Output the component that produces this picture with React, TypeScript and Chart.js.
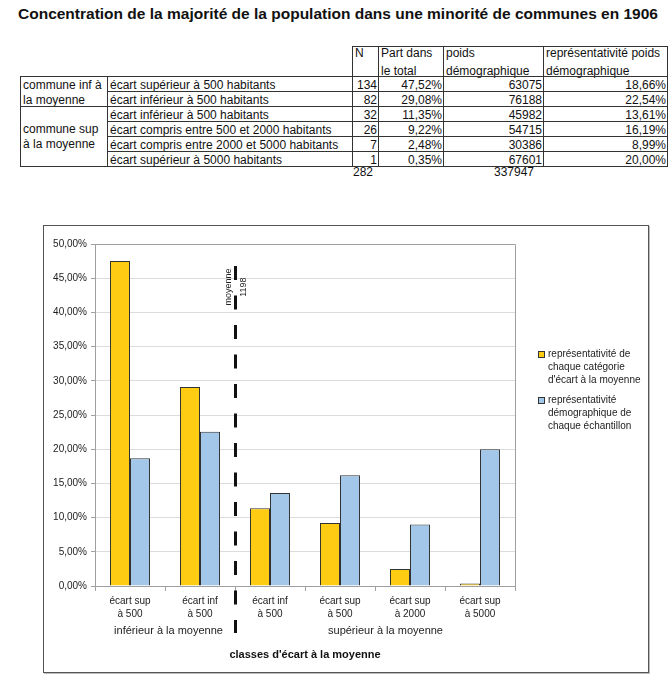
import React, { useEffect, useRef } from "react";
import { Chart, registerables } from "chart.js";

Chart.register(...registerables);

const FONT = '"Liberation Sans", Arial, sans-serif';

// ---------- data ----------
const categories: string[][] = [
  ["écart sup", "à 500"],
  ["écart inf", "à 500"],
  ["écart inf", "à 500"],
  ["écart sup", "à 500"],
  ["écart sup", "à 2000"],
  ["écart sup", "à 5000"],
];
const partTotal = [47.52, 29.08, 11.35, 9.22, 2.48, 0.35];
const reprDemo = [18.66, 22.54, 13.61, 16.19, 8.99, 20.0];
const seriesNames: string[][] = [
  ["représentativité de", "chaque catégorie", "d'écart à la moyenne"],
  ["représentativité", "démographique de", "chaque échantillon"],
];
const yTicks = { min: 0, max: 50, step: 5 };
const groupLabels = ["inférieur à la moyenne", "supérieur à la moyenne"];
const axisTitle = "classes d'écart à la moyenne";
const meanLabel = ["moyenne", "1198"];

// table
const title = "Concentration de la majorité de la population dans une minorité de communes en 1906";
const groupNames: string[][] = [
  ["commune inf à", "la moyenne"],
  ["commune sup", "à la moyenne"],
];
const rowLabels = [
  "écart supérieur à 500 habitants",
  "écart inférieur à 500 habitants",
  "écart inférieur à 500 habitants",
  "écart compris entre 500 et 2000 habitants",
  "écart compris entre 2000 et 5000 habitants",
  "écart supérieur à 5000 habitants",
];
const nValues = [134, 82, 32, 26, 7, 1];
const poidsValues = [63075, 76188, 45982, 54715, 30386, 67601];
const totalN = 282;
const totalPoids = 337947;
const headers: string[][] = [
  ["N"],
  ["Part dans", "le total"],
  ["poids", "démographique"],
  ["représentativité poids", "démographique"],
];

const pct = (v: number) => v.toFixed(2).replace(".", ",") + "%";

const COLORS = ["#FFCC14", "#A2C7E8"];

// ---------- table ----------
const colX = [20, 107, 352, 378, 443, 543, 667];
const rowTop = 76;
const rowH = 15;
const TFONT = 12;

function Cell(props: {
  x1: number; x2: number; y1: number; y2: number;
  align?: "left" | "right"; lines: string[]; vcenter?: boolean; lh?: number; off?: number;
}) {
  const { x1, x2, y1, y2, align = "left", lines, vcenter, lh = 15, off = 1 } = props;
  return (
    <div
      style={{
        position: "absolute",
        left: x1,
        top: y1,
        width: x2 - x1 + 1,
        height: y2 - y1 + 1,
        boxSizing: "border-box",
        border: "1px solid #333",
        fontSize: TFONT,
        lineHeight: lh + "px",
        textAlign: align,
        padding: align === "left" ? "0 0 0 2px" : "0 1px 0 0",
        color: "#111",
        whiteSpace: "nowrap",
        display: "flex",
        flexDirection: "column",
        justifyContent: vcenter ? "center" : "flex-start",
      }}
    >
      {lines.map((l, i) => (
        <div key={i} style={{ height: lh, flex: "none", marginTop: i === 0 && !vcenter ? off : 0 }}>{l}</div>
      ))}
    </div>
  );
}

function DataTable() {
  const cells: React.ReactNode[] = [];
  headers.forEach((h, i) => {
    cells.push(<Cell key={"h" + i} x1={colX[2 + i]} x2={colX[3 + i]} y1={46} y2={rowTop} lines={h} lh={18} off={-3} />);
  });
  cells.push(<Cell key="g0" x1={colX[0]} x2={colX[1]} y1={rowTop} y2={rowTop + 2 * rowH} lines={groupNames[0]} />);
  cells.push(<Cell key="g1" x1={colX[0]} x2={colX[1]} y1={rowTop + 2 * rowH} y2={rowTop + 6 * rowH} lines={groupNames[1]} vcenter />);
  rowLabels.forEach((lab, r) => {
    const y1 = rowTop + r * rowH;
    const y2 = y1 + rowH;
    cells.push(<Cell key={"l" + r} x1={colX[1]} x2={colX[2]} y1={y1} y2={y2} lines={[lab]} />);
    cells.push(<Cell key={"n" + r} x1={colX[2]} x2={colX[3]} y1={y1} y2={y2} lines={[String(nValues[r])]} align="right" />);
    cells.push(<Cell key={"p" + r} x1={colX[3]} x2={colX[4]} y1={y1} y2={y2} lines={[pct(partTotal[r])]} align="right" />);
    cells.push(<Cell key={"w" + r} x1={colX[4]} x2={colX[5]} y1={y1} y2={y2} lines={[String(poidsValues[r])]} align="right" />);
    cells.push(<Cell key={"r" + r} x1={colX[5]} x2={colX[6]} y1={y1} y2={y2} lines={[pct(reprDemo[r])]} align="right" />);
  });
  const ty = 165;
  return (
    <>
      {cells}
      <div style={{ position: "absolute", left: 353, top: ty, fontSize: TFONT, lineHeight: "15px", color: "#111" }}>{totalN}</div>
      <div style={{ position: "absolute", left: 443, width: 91, textAlign: "right", top: ty, fontSize: TFONT, lineHeight: "15px", color: "#111" }}>{totalPoids}</div>
    </>
  );
}

// ---------- chart ----------
const overlayPlugin = {
  id: "overlay",
  afterDraw(chart: any) {
    const { ctx, chartArea: ca, scales } = chart;
    const x = scales.x;
    const y = scales.y;
    ctx.save();
    // plot area border (top & right)
    ctx.strokeStyle = "#a0a0a0";
    ctx.lineWidth = 1;
    ctx.beginPath();
    ctx.moveTo(Math.round(ca.left) + 0.5, Math.round(ca.top) + 0.5);
    ctx.lineTo(Math.round(ca.right) + 0.5, Math.round(ca.top) + 0.5);
    ctx.lineTo(Math.round(ca.right) + 0.5, Math.round(ca.bottom) + 0.5);
    ctx.stroke();

    // mean dashed line
    const xm = Math.round(x.getPixelForValue(1.5)) + 0.5;
    ctx.strokeStyle = "#111";
    ctx.lineWidth = 3;
    ctx.setLineDash([14, 15.5]);
    ctx.beginPath();
    ctx.moveTo(xm, y.getPixelForValue(46.8));
    ctx.lineTo(xm, ca.bottom + 47);
    ctx.stroke();
    ctx.setLineDash([]);

    // mean label
    ctx.fillStyle = "#222";
    ctx.font = `9px ${FONT}`;
    ctx.textAlign = "center";
    ctx.textBaseline = "middle";
    const yc = y.getPixelForValue(43.7);
    [[-7, meanLabel[0]], [8, meanLabel[1]]].forEach(([dx, t]: any) => {
      ctx.save();
      ctx.translate(xm + dx, yc);
      ctx.rotate(-Math.PI / 2);
      ctx.fillText(t, 0, 0);
      ctx.restore();
    });

    // group labels
    ctx.font = `11px ${FONT}`;
    ctx.fillStyle = "#222";
    ctx.fillText(groupLabels[0], x.getPixelForValue(0.55), ca.bottom + 45);
    ctx.fillText(groupLabels[1], x.getPixelForValue(3.65), ca.bottom + 45);

    // axis title
    ctx.font = `bold 11px ${FONT}`;
    ctx.fillStyle = "#111";
    ctx.fillText(axisTitle, (ca.left + ca.right) / 2, ca.bottom + 69);

    // legend
    ctx.font = `10px ${FONT}`;
    ctx.textAlign = "left";
    const lx = ca.right + 23;
    let ly = 128;
    seriesNames.forEach((lines, i) => {
      ctx.fillStyle = COLORS[i];
      ctx.fillRect(lx, ly - 3, 6, 6);
      ctx.strokeStyle = "#333";
      ctx.lineWidth = 1;
      ctx.strokeRect(lx + 0.5, ly - 3 + 0.5, 6, 6);
      ctx.fillStyle = "#222";
      lines.forEach((l, j) => ctx.fillText(l, lx + 10, ly + j * 13));
      ly += lines.length * 13 + 7;
    });
    ctx.restore();
  },
};

function BarChart() {
  const ref = useRef<HTMLCanvasElement>(null);
  useEffect(() => {
    if (!ref.current) return;
    const chart = new Chart(ref.current, {
      type: "bar",
      data: {
        labels: categories,
        datasets: [
          {
            label: seriesNames[0].join(" "),
            data: partTotal,
            backgroundColor: COLORS[0],
            borderColor: "#333",
            borderWidth: 1,
            categoryPercentage: 0.572,
            barPercentage: 1,
          },
          {
            label: seriesNames[1].join(" "),
            data: reprDemo,
            backgroundColor: COLORS[1],
            borderColor: "#333",
            borderWidth: 1,
            categoryPercentage: 0.572,
            barPercentage: 1,
          },
        ],
      },
      options: {
        animation: false,
        responsive: false,
        maintainAspectRatio: false,
        layout: { padding: { left: 0, top: 18, right: 133, bottom: 46 } },
        font: { family: FONT },
        plugins: { legend: { display: false }, tooltip: { enabled: false }, title: { display: false } },
        scales: {
          x: {
            grid: { drawOnChartArea: false, drawTicks: true, tickLength: 5, tickColor: "#a0a0a0", offset: true },
            border: { color: "#a0a0a0" },
            ticks: { color: "#222", font: { size: 10, family: FONT, lineHeight: 1.25 }, padding: 4, maxRotation: 0, autoSkip: false },
            afterFit: (s: any) => { s.height = 40; },
          },
          y: {
            min: yTicks.min,
            max: yTicks.max,
            ticks: { stepSize: yTicks.step, color: "#222", font: { size: 10, family: FONT }, padding: 4, callback: (v: any) => pct(Number(v)) },
            grid: { color: "#dcdcdc", tickLength: 4, tickColor: "#a0a0a0" },
            border: { color: "#a0a0a0" },
            afterFit: (s: any) => { s.width = 51; },
          },
        },
      } as any,
      plugins: [overlayPlugin],
    });
    return () => chart.destroy();
  }, []);
  return <canvas ref={ref} width={604} height={446} style={{ display: "block", width: 604, height: 446 }} />;
}

export default function App() {
  return (
    <div style={{ position: "absolute", left: 0, top: 0, width: 670, height: 679, background: "#fff", fontFamily: FONT, overflow: "hidden" }}>
      <div style={{ position: "absolute", left: 18, top: 5, fontSize: 15.5, fontWeight: "bold", lineHeight: "18px", color: "#111", whiteSpace: "nowrap" }}>
        {title}
      </div>
      <DataTable />
      <div
        style={{
          position: "absolute",
          left: 43,
          top: 225,
          width: 606,
          height: 448,
          boxSizing: "border-box",
          border: "1px solid #555",
          boxShadow: "1px 1px 0 #bbb",
        }}
      >
        <BarChart />
      </div>
    </div>
  );
}
